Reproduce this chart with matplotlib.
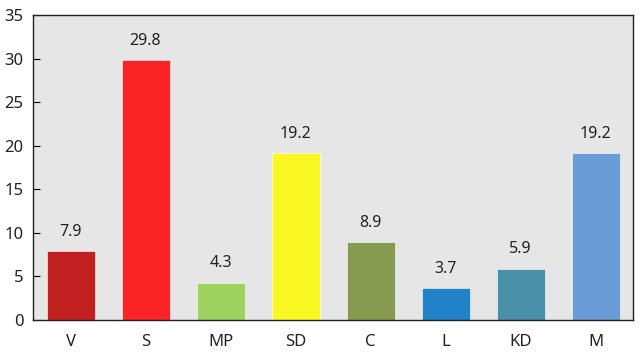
import matplotlib.pyplot as plt

parties = ['V', 'S', 'MP', 'SD', 'C', 'L', 'KD', 'M']
values = [7.9, 29.8, 4.3, 19.2, 8.9, 3.7, 5.9, 19.2]
colors = ['#c0201f', '#fa2325', '#9ed25f', '#faf822',
          '#869a50', '#2282c8', '#4891a8', '#6a9cd6']

plt.rcParams['font.family'] = ['Noto Sans', 'DejaVu Sans']

fig = plt.figure(figsize=(6.4, 3.54), dpi=100)
ax = fig.add_axes([33 / 640, 1 - 320 / 354, 600 / 640, 305 / 354])
ax.set_facecolor('#e6e6e6')

x = range(len(parties))
ax.bar(x, values, width=0.64, color=colors, edgecolor='white', linewidth=0.4)
for xi, v in zip(x, values):
    ax.annotate(f"{v}", (xi, v), xytext=(0, 8), textcoords='offset points',
                ha='center', va='bottom', fontsize=11.5, color='#222222')

ax.set_xlim(-0.5, 7.5)
ax.set_ylim(0, 35)
ax.set_yticks(range(0, 36, 5))
ax.set_xticks(list(x))
ax.set_xticklabels(parties)
ax.tick_params(axis='y', direction='in', length=5, labelsize=12, pad=7,
               labelcolor='#222222')
ax.tick_params(axis='x', length=0, labelsize=12, pad=10, labelcolor='#222222')
for s in ax.spines.values():
    s.set_color('#222222')
    s.set_linewidth(1)

plt.savefig('out.png', dpi=100)
